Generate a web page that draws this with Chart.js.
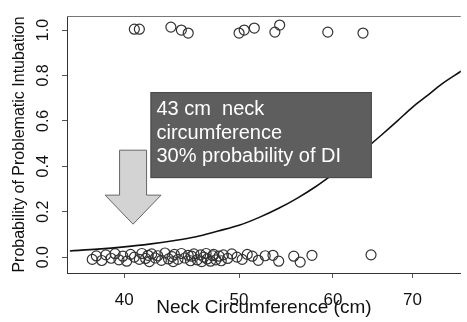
<!DOCTYPE html>
<html><head><meta charset="utf-8">
<script src="https://cdn.jsdelivr.net/npm/chart.js@4.4.0/dist/chart.umd.min.js"></script>
<style>html,body{margin:0;padding:0;background:#fff;overflow:hidden}#wrap{width:467px;height:322px}</style>
</head><body><div id="wrap"><canvas id="c" width="467" height="322"></canvas></div>
<script>
const xTickValues = [40, 50, 60, 70];
const xTickLabels = ['40', '50', '60', '70'];
const yTickValues = [0, 0.2, 0.4, 0.6, 0.8, 1.0];
const yTickLabels = ['0.0', '0.2', '0.4', '0.6', '0.8', '1.0'];
const xTitle = 'Neck Circumference (cm)';
const yTitle = 'Probability of Problematic Intubation';
const noteLines = ['43 cm  neck', 'circumference', '30% probability of DI'];

// patients with problematic intubation (y = 1, jittered)
const topX = [40.8, 41.2, 43.8, 44.7, 45.3, 50.0, 50.5, 51.5, 53.6, 54.1, 59.4, 63.6];
const topY = [1.004, 1.004, 1.013, 1.0, 0.987, 0.987, 1.0, 1.009, 0.991, 1.022, 0.991, 0.987];

// patients without problematic intubation (y = 0, jittered)
const botX = [37.6, 37.9, 38.3, 38.6, 39.0, 39.3, 39.6, 39.9, 40.2, 40.5, 40.8, 41.2, 41.4, 41.7, 41.9, 42.0, 42.2, 42.5, 42.7, 43.0, 43.3, 43.6, 43.9, 44.0, 44.1, 44.4, 44.7, 45.0, 45.3, 45.5, 45.6, 45.8, 46.1, 46.4, 46.5, 46.7, 46.9, 47.0, 47.3, 47.5, 47.6, 47.8, 48.1, 48.3, 48.5, 48.9, 49.3, 49.8, 50.3, 50.8, 51.3, 51.9, 52.6, 53.4, 54.0, 55.6, 56.3, 57.6, 64.6];
const botY = [-0.01, 0.005, -0.015, 0.01, -0.005, 0.015, -0.012, 0.004, -0.018, 0.012, 0.0, -0.01, 0.016, -0.006, 0.008, -0.02, 0.014, -0.004, 0.006, -0.014, 0.018, -0.008, 0.002, -0.02, 0.012, -0.01, 0.016, -0.004, 0.008, -0.016, 0.004, 0.014, -0.012, 0.01, -0.02, 0.0, 0.016, -0.008, -0.018, 0.006, 0.012, -0.012, 0.004, -0.016, 0.01, -0.006, 0.014, 0.0, -0.01, 0.012, 0.004, -0.014, 0.006, 0.008, -0.018, 0.004, -0.022, 0.008, 0.01];

// fitted logistic curve
const curveX = [36, 38, 40, 42, 44, 46, 48, 50, 52, 54, 56, 58, 60, 62, 64, 66, 68, 70, 72, 74, 77];
const curveY = [0.027, 0.035, 0.045, 0.057, 0.072, 0.09, 0.115, 0.14, 0.175, 0.215, 0.26, 0.31, 0.365, 0.42, 0.48, 0.54, 0.60, 0.66, 0.71, 0.76, 0.82];

// annotation anchors in data units
const boxX = [42.1, 64.7];
const boxY = [0.727, 0.348];
const arrowX = 40.7;
const arrowY = [0.471, 0.273, 0.145];

Chart.defaults.font.family = "'Liberation Sans', Arial, sans-serif";
Chart.defaults.color = '#111';

const pts = (xs, ys) => xs.map((x, i) => ({x: x, y: ys[i]}));

const decor = {
  id: 'decor',
  afterDraw(chart) {
    const ctx = chart.ctx, xs = chart.scales.x, ys = chart.scales.y, ca = chart.chartArea;
    ctx.save();
    ctx.strokeStyle = '#777'; ctx.lineWidth = 1;
    ctx.beginPath(); ctx.moveTo(ca.left, ca.top + 0.5); ctx.lineTo(ca.right, ca.top + 0.5); ctx.stroke();
    ctx.fillStyle = '#111';
    ctx.font = "16px 'Liberation Sans', Arial, sans-serif";
    ctx.textAlign = 'center'; ctx.textBaseline = 'middle';
    yTickValues.forEach((v, i) => {
      const py = ys.getPixelForValue(v);
      ctx.save(); ctx.translate(44, py); ctx.rotate(-Math.PI / 2);
      ctx.fillText(yTickLabels[i], 0, 0); ctx.restore();
    });
    const ax = xs.getPixelForValue(arrowX);
    const a0 = ys.getPixelForValue(arrowY[0]), a1 = ys.getPixelForValue(arrowY[1]), a2 = ys.getPixelForValue(arrowY[2]);
    ctx.beginPath();
    ctx.moveTo(ax - 13.5, a0); ctx.lineTo(ax + 13.5, a0); ctx.lineTo(ax + 13.5, a1);
    ctx.lineTo(ax + 28, a1); ctx.lineTo(ax, a2); ctx.lineTo(ax - 28, a1); ctx.lineTo(ax - 13.5, a1);
    ctx.closePath();
    ctx.fillStyle = '#d3d3d3'; ctx.fill();
    ctx.strokeStyle = '#666'; ctx.lineWidth = 1; ctx.stroke();
    const bx0 = xs.getPixelForValue(boxX[0]), bx1 = xs.getPixelForValue(boxX[1]);
    const by0 = ys.getPixelForValue(boxY[0]), by1 = ys.getPixelForValue(boxY[1]);
    ctx.fillStyle = '#5e5e5e';
    ctx.fillRect(bx0, by0, bx1 - bx0, by1 - by0);
    ctx.strokeStyle = '#4a4a4a'; ctx.strokeRect(bx0 + 0.5, by0 + 0.5, bx1 - bx0 - 1, by1 - by0 - 1);
    ctx.fillStyle = '#fff';
    ctx.font = "20px 'Liberation Sans', Arial, sans-serif";
    ctx.textAlign = 'left'; ctx.textBaseline = 'alphabetic';
    noteLines.forEach((t, i) => ctx.fillText(t, bx0 + 6, by0 + 23 + i * 23.5));
    ctx.restore();
  }
};

new Chart(document.getElementById('c'), {
  type: 'scatter',
  data: {
    datasets: [
      {type: 'line', data: pts(curveX, curveY), borderColor: '#111', borderWidth: 1.6, pointRadius: 0, fill: false, cubicInterpolationMode: 'monotone'},
      {data: pts(topX, topY), pointStyle: 'circle', pointRadius: 5, backgroundColor: 'rgba(0,0,0,0)', borderColor: '#333', borderWidth: 1.2},
      {data: pts(botX, botY), pointStyle: 'circle', pointRadius: 5, backgroundColor: 'rgba(0,0,0,0)', borderColor: '#333', borderWidth: 1.2}
    ]
  },
  options: {
    responsive: false, animation: false, devicePixelRatio: 1,
    layout: {padding: {left: 0, right: 1, top: 16, bottom: 0}},
    plugins: {legend: {display: false}, tooltip: {enabled: false}},
    scales: {
      x: {
        type: 'logarithmic', min: 35.8, max: 76.9,
        afterBuildTicks: s => { s.ticks = xTickValues.map(v => ({value: v})); },
        afterFit: s => { s.height = 49; },
        ticks: {autoSkip: false, maxRotation: 0, padding: 12, font: {size: 17}, color: '#111',
          callback: (v) => { const i = xTickValues.indexOf(v); return i >= 0 ? xTickLabels[i] : ''; }},
        grid: {drawOnChartArea: false, drawTicks: true, tickLength: 5, color: '#555'},
        border: {display: true, color: '#333', width: 1},
        title: {display: true, text: xTitle, font: {size: 19}, color: '#111', padding: {top: 0, bottom: 3}}
      },
      y: {
        min: -0.070, max: 1.062,
        afterBuildTicks: s => { s.ticks = yTickValues.map(v => ({value: v})); },
        afterFit: s => { s.width = 67; },
        ticks: {display: false},
        grid: {drawOnChartArea: false, drawTicks: true, tickLength: 5, color: '#555'},
        border: {display: true, color: '#333', width: 1},
        title: {display: true, text: yTitle, font: {size: 16}, color: '#111', padding: {top: 10, bottom: 0}}
      }
    }
  },
  plugins: [decor]
});
</script></body></html>
